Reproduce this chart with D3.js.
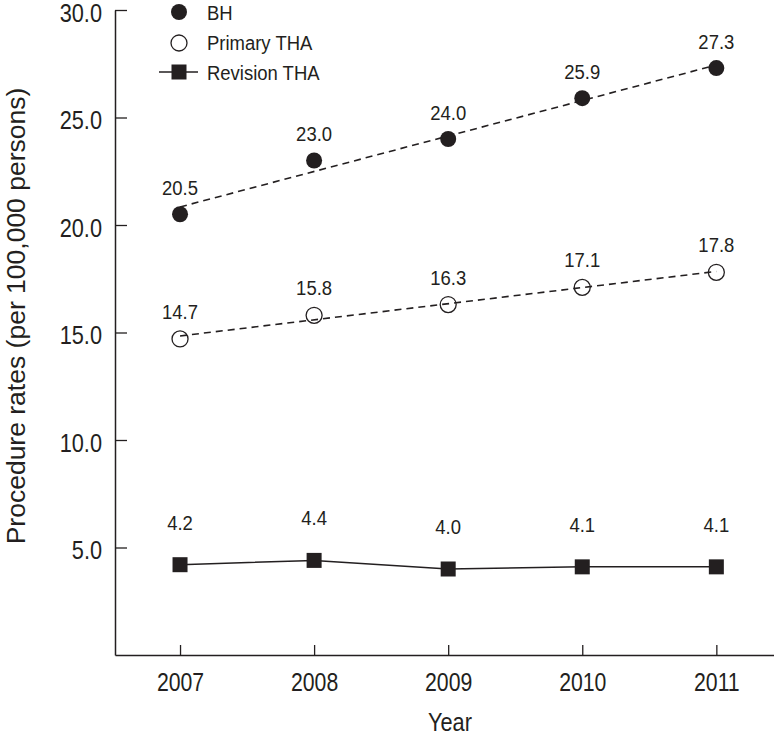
<!DOCTYPE html>
<html><head><meta charset="utf-8">
<script src="https://cdn.jsdelivr.net/npm/d3@7"></script>
<style>
body{margin:0;background:#fff;}
text{font-family:"Liberation Sans",Arial,sans-serif;fill:#231f20;}
</style></head>
<body><svg id="c" width="774" height="736"></svg>
<script>
const years = [2007, 2008, 2009, 2010, 2011];
const bh = [20.5, 23.0, 24.0, 25.9, 27.3];
const primary = [14.7, 15.8, 16.3, 17.1, 17.8];
const revision = [4.2, 4.4, 4.0, 4.1, 4.1];
const yTicks = [5, 10, 15, 20, 25, 30];
const seriesNames = ["BH", "Primary THA", "Revision THA"];

const ink = "#231f20";
const svg = d3.select("#c");
const x = d3.scaleLinear().domain([2006.515, 2011.43]).range([115, 774]);
const y = d3.scaleLinear().domain([0, 30]).range([655, 10]);

// horizontally condense text around its anchor x
function condense(sel, s) {
  sel.each(function () {
    const t = d3.select(this);
    const ax = +(t.attr("x") || 0);
    t.attr("transform", `translate(${ax * (1 - s)},0) scale(${s},1)`);
  });
}

// axes
const yAxis = d3.axisLeft(y).tickValues(yTicks).tickFormat(d3.format(".1f")).tickSizeInner(-12).tickSizeOuter(0).tickPadding(14);
const gy = svg.append("g").attr("transform", "translate(115,0)").call(yAxis);
gy.select(".domain").attr("stroke", ink).attr("stroke-width", 1.5);
gy.selectAll(".tick line").attr("stroke", ink).attr("stroke-width", 1.3);
gy.selectAll(".tick text").style("font-size", "25px").attr("fill", ink).attr("x", -13).attr("dy", "0.45em");
condense(gy.selectAll(".tick text"), 0.87);

const xAxis = d3.axisBottom(x).tickValues(years).tickFormat(d3.format("d")).tickSizeInner(-10).tickSizeOuter(0).tickPadding(18);
const gx = svg.append("g").attr("transform", "translate(0,655)").call(xAxis);
gx.select(".domain").attr("stroke", ink).attr("stroke-width", 1.5);
gx.selectAll(".tick line").attr("stroke", ink).attr("stroke-width", 1.3);
gx.selectAll(".tick text").style("font-size", "25px").attr("fill", ink);
condense(gx.selectAll(".tick text"), 0.85);

const yearT = svg.append("text").attr("x", 450).attr("y", 731).attr("text-anchor", "middle").style("font-size", "25px").text("Year");
condense(yearT, 0.87);
svg.append("text").attr("transform", "translate(25,316) rotate(-90)").attr("text-anchor", "middle").style("font-size", "26.5px").text("Procedure rates (per 100,000 persons)");

// linear trend (least squares fit of each series)
function trend(vals) {
  const n = vals.length, xs = years.map((d, i) => i);
  const mx = d3.mean(xs), my = d3.mean(vals);
  const s = d3.sum(xs, (xi, i) => (xi - mx) * (vals[i] - my)) / d3.sum(xs, xi => (xi - mx) ** 2);
  const b = my - s * mx;
  return [[years[0], b], [years[n - 1], b + s * (n - 1)]];
}
const line = d3.line().x(d => x(d[0])).y(d => y(d[1]));

// BH
svg.append("g").selectAll("circle").data(bh).join("circle")
  .attr("cx", (d, i) => x(years[i])).attr("cy", d => y(d)).attr("r", 8).attr("fill", ink);
// Primary
svg.append("g").selectAll("circle").data(primary).join("circle")
  .attr("cx", (d, i) => x(years[i])).attr("cy", d => y(d)).attr("r", 8).attr("fill", "none").attr("stroke", ink).attr("stroke-width", 1.3);

[bh, primary].forEach(v => {
  svg.append("path").attr("d", line(trend(v))).attr("fill", "none").attr("stroke", ink).attr("stroke-width", 1.6).attr("stroke-dasharray", "7,5");
});

// Revision
svg.append("path").attr("d", line(revision.map((d, i) => [years[i], d]))).attr("fill", "none").attr("stroke", ink).attr("stroke-width", 1.5);
svg.append("g").selectAll("rect").data(revision).join("rect")
  .attr("x", (d, i) => x(years[i]) - 7.5).attr("y", d => y(d) - 7.5).attr("width", 15).attr("height", 15).attr("fill", ink);

// value labels
function labels(v, off) {
  const t = svg.append("g").selectAll("text").data(v).join("text")
    .attr("x", (d, i) => x(years[i])).attr("y", d => y(d) - off)
    .attr("text-anchor", "middle").style("font-size", "21px").text(d => d.toFixed(1));
  condense(t, 0.88);
}
labels(bh, 19);
labels(primary, 20);
labels(revision, 35);

// legend
const lg = svg.append("g");
lg.append("circle").attr("cx", 179).attr("cy", 12).attr("r", 8).attr("fill", ink);
lg.append("circle").attr("cx", 179).attr("cy", 43).attr("r", 8).attr("fill", "none").attr("stroke", ink).attr("stroke-width", 1.3);
lg.append("line").attr("x1", 159).attr("x2", 198).attr("y1", 72).attr("y2", 72).attr("stroke", ink).attr("stroke-width", 1.5);
lg.append("rect").attr("x", 171.5).attr("y", 64.5).attr("width", 15).attr("height", 15).attr("fill", ink);
const lt = lg.selectAll("text").data(seriesNames).join("text")
  .attr("x", 207).attr("y", (d, i) => 12 + i * 30 + 8).style("font-size", "21px").text(d => d);
condense(lt, 0.88);
</script></body></html>
